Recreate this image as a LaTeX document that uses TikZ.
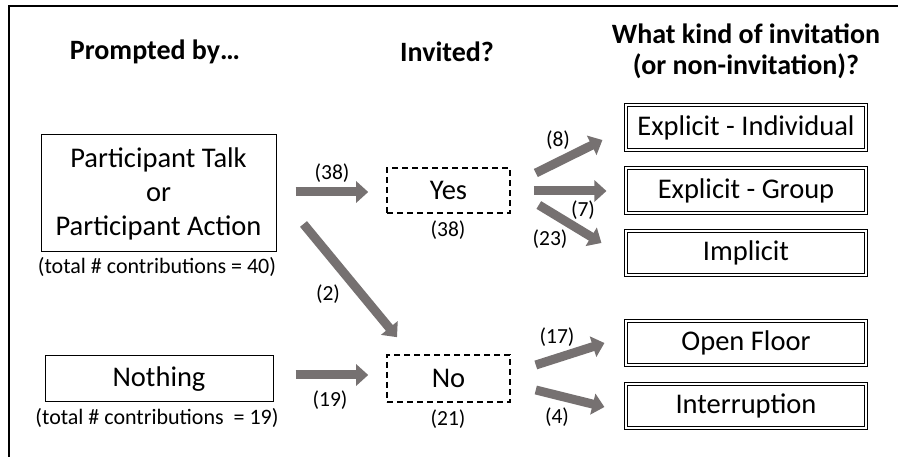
\documentclass[tikz,border=0pt]{standalone}
\usepackage{fontspec}
\setmainfont{Carlito}
\usetikzlibrary{arrows.meta}
\definecolor{arrgray}{HTML}{767171}
\tikzset{
  arr/.style={draw=arrgray, line width=9pt, -{Triangle[length=12pt,width=21pt]}},
  srcbox/.style={draw, line width=1pt, inner sep=0pt, align=center, font=\fontsize{28.5}{34}\selectfont},
  dashbox/.style={draw, dashed, dash pattern=on 6pt off 4pt, line width=1.6pt, inner sep=0pt, font=\fontsize{28.5}{34}\selectfont},
  dblbox/.style={draw, double, line width=1.1pt, double distance=2.2pt, inner sep=0pt, minimum width=240pt, minimum height=44.5pt, font=\fontsize{28.5}{34}\selectfont},
  head/.style={font=\bfseries\fontsize{28}{31}\selectfont, align=center, inner sep=0pt},
  cnt/.style={font=\fontsize{21.5}{24}\selectfont, inner sep=0pt},
  tot/.style={font=\fontsize{22}{24}\selectfont, inner sep=0pt}
}
\begin{document}
\begin{tikzpicture}[x=1pt,y=-1pt]
\useasboundingbox (0,0) rectangle (898,457);
\draw[line width=1.5pt] (9,457) -- (9,6) -- (898,6);
% headings
\node[head] (h1) at (155,52) {Prompted by…};
\node[head] (h2) at (447,52) {Invited?};
\node[head] (h3) at (746,51) {What kind of invitation\\(or non-invitation)?};
% source boxes
\node[srcbox, minimum width=235pt, minimum height=117pt] (pt) at (158.5,193.5) {Participant Talk\\or\\Participant Action};
\node[tot] (tot40) at (157,267) {(total \# contributions = 40)};
\node[srcbox, minimum width=228pt, minimum height=46pt] (nothing) at (159,379) {Nothing};
\node[tot] (tot19) at (157,418) {(total \# contributions\ \ = 19)};
% invited boxes
\node[dashbox, minimum width=123pt, minimum height=45pt] (yes) at (448.5,190.5) {Yes};
\node[cnt] (l38b) at (448,230) {(38)};
\node[dashbox, minimum width=123pt, minimum height=47pt] (no) at (448.5,378.5) {No};
\node[cnt] (l21) at (448,419) {(21)};
% kind boxes
\node[dblbox] (ei) at (746,127.5) {Explicit - Individual};
\node[dblbox] (eg) at (746,190.5) {Explicit - Group};
\node[dblbox] (im) at (746,253) {Implicit};
\node[dblbox] (of) at (746,343) {Open Floor};
\node[dblbox] (ir) at (746,406) {Interruption};
% arrows
\draw[arr] ([shift={(19,-1.5)}]pt.east) -- ([shift={(-18,1.5)}]yes.west);
\node[cnt] (l38a) at (332,173) {(38)};
\draw[arr] ([shift={(27,30.5)}]pt.east) -- ([shift={(-51.5,-17)}]no.north);
\node[cnt] (l2) at (328,294) {(2)};
\draw[arr] ([shift={(22,-4)}]nothing.east) -- ([shift={(-18,-3.5)}]no.west);
\node[cnt] (l19) at (330,400) {(19)};
\draw[arr] ([shift={(25,-17.5)}]yes.east) -- ([shift={(-23,12.5)}]ei.west);
\node[cnt] (l8) at (558,140) {(8)};
\draw[arr] ([shift={(23,0.5)}]yes.east) -- ([shift={(-19,0.5)}]eg.west);
\node[cnt] (l7) at (583,210) {(7)};
\draw[arr] ([shift={(28,14.5)}]yes.east) -- ([shift={(-24,-10)}]im.west);
\node[cnt] (l23) at (550,239) {(23)};
\draw[arr] ([shift={(25,-13.5)}]no.east) -- ([shift={(-21,0)}]of.west);
\node[cnt] (l17) at (557,337) {(17)};
\draw[arr] ([shift={(25,11.5)}]no.east) -- ([shift={(-21,1)}]ir.west);
\node[cnt] (l4) at (557,417) {(4)};
\end{tikzpicture}
\end{document}
